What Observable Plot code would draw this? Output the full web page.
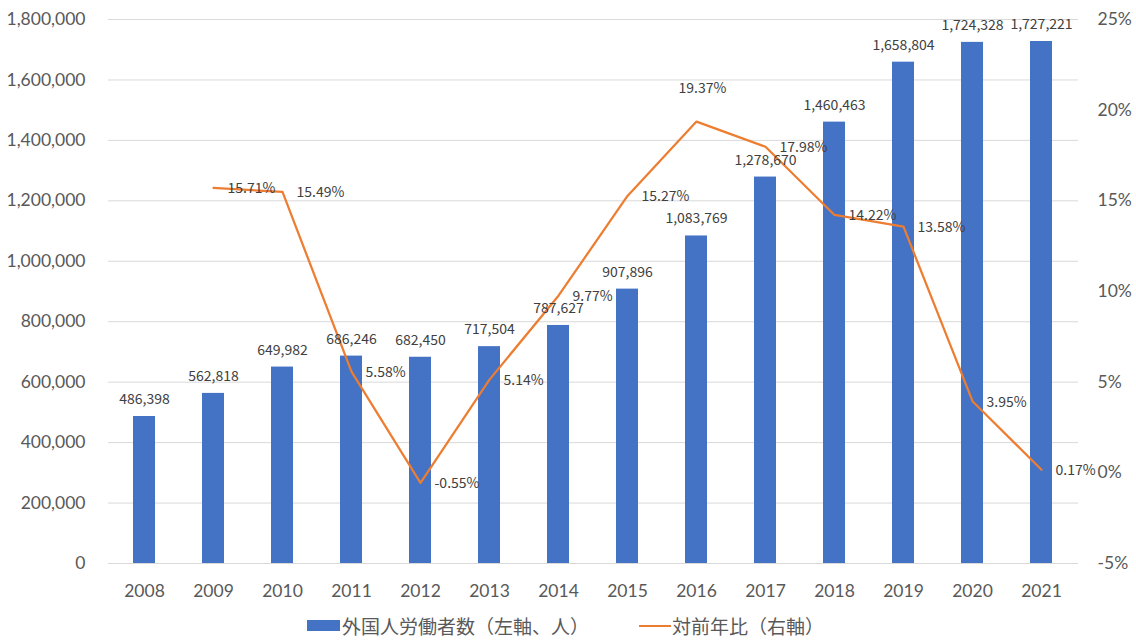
<!DOCTYPE html>
<html>
<head>
<meta charset="utf-8">
<script src="https://cdn.jsdelivr.net/npm/d3@7"></script>
<script src="https://cdn.jsdelivr.net/npm/@observablehq/plot@0.6"></script>
<style>
  body { margin: 0; background: #fff; }
  #legend { display: flex; justify-content: flex-start; align-items: center; height: 43px; margin-top: 4px;
    font-family: "Noto Sans CJK JP", sans-serif; font-size: 19px; color: #595959; padding-left: 307px; }
  .sw { display: inline-block; }
</style>
</head>
<body>
<div id="chart"></div>
<div id="legend">
  <span class="sw" style="width:33px;height:11px;background:#4472C4;margin-right:2px"></span><span>外国人労働者数（左軸、人）</span>
  <span class="sw" style="width:32px;height:2px;background:#ED7D31;margin-left:50px;margin-right:1px"></span><span>対前年比（右軸）</span>
</div>
<script>
const years = ["2008","2009","2010","2011","2012","2013","2014","2015","2016","2017","2018","2019","2020","2021"];
const workers = [486398,562818,649982,686246,682450,717504,787627,907896,1083769,1278670,1460463,1658804,1724328,1727221];
const yoyYears = ["2009","2010","2011","2012","2013","2014","2015","2016","2017","2018","2019","2020","2021"];
const yoy = [15.71,15.49,5.58,-0.55,5.14,9.77,15.27,19.37,17.98,14.22,13.58,3.95,0.17];
const leftTicks = [0,200000,400000,600000,800000,1000000,1200000,1400000,1600000,1800000];
const rightTicks = [-5,0,5,10,15,20,25];

const yMax = 1800000, pMin = -5, pMax = 25;
const toLeft = p => (p - pMin) / (pMax - pMin) * yMax;

const bars = years.map((y, i) => ({year: y, value: workers[i]}));
const line = yoyYears.map((y, i) => ({year: y, pct: yoy[i]}));

const labelFont = "Noto Sans CJK JP, sans-serif";
const axisFont = "Lato, sans-serif";

const chart = Plot.plot({
  width: 1136,
  height: 600,
  marginTop: 19,
  marginBottom: 37,
  marginLeft: 108,
  marginRight: 58,
  style: {fontFamily: axisFont, fontSize: "17px", color: "#595959", background: "#fff"},
  x: {domain: years, paddingInner: 0.68, paddingOuter: 0.34, label: null},
  y: {domain: [0, yMax], label: null},
  marks: [
    Plot.gridY(leftTicks, {stroke: "#d9d9d9", strokeOpacity: 1, strokeWidth: 1}),
    Plot.barY(bars, {x: "year", y: "value", fill: "#4472C4"}),
    Plot.lineY(line, {x: "year", y: d => toLeft(d.pct), stroke: "#ED7D31", strokeWidth: 2.25}),
    Plot.text(bars, {x: "year", y: "value", text: d => d3.format(",")(d.value), dy: -17,
      fontSize: 14, fill: "#404040", fontFamily: labelFont}),
    Plot.text(line.filter(d => d.year !== "2016"), {x: "year", y: d => toLeft(d.pct),
      text: d => d.pct.toFixed(2) + "%", dx: 14, dy: 1, textAnchor: "start",
      fontSize: 14, fill: "#404040", fontFamily: labelFont}),
    Plot.text(line.filter(d => d.year === "2016"), {x: "year", y: d => toLeft(d.pct),
      text: d => d.pct.toFixed(2) + "%", dx: 6, dy: -33,
      fontSize: 14, fill: "#404040", fontFamily: labelFont}),
    Plot.axisY(leftTicks, {anchor: "left", tickSize: 0, tickPadding: 23, tickFormat: d3.format(","),
      fill: "#595959", fontSize: 17.5}),
    Plot.axisY(rightTicks.map(toLeft), {anchor: "right", tickSize: 0, tickPadding: 19,
      tickFormat: v => Math.round(v / yMax * (pMax - pMin) + pMin) + "%", fill: "#595959", fontSize: 17.5}),
    Plot.axisX({tickSize: 0, tickPadding: 21, fill: "#595959", fontSize: 17.5}),
    Plot.ruleY([0], {stroke: "#d9d9d9"})
  ]
});
document.getElementById("chart").appendChild(chart);
</script>
</body>
</html>
